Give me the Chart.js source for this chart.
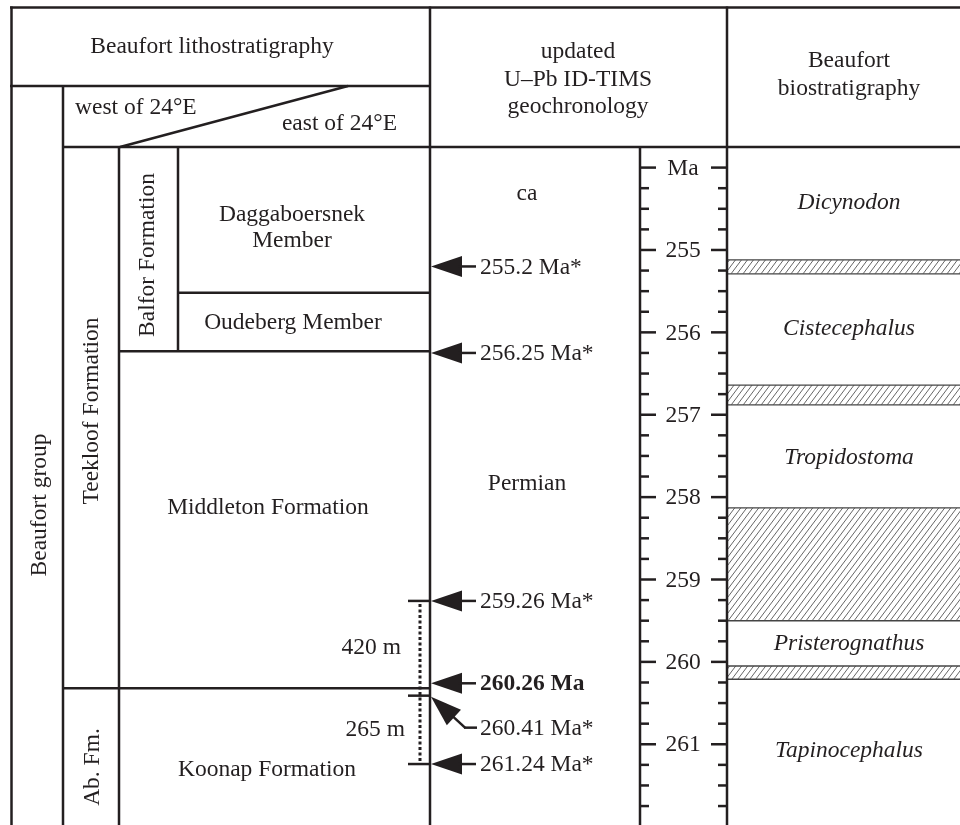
<!DOCTYPE html>
<html>
<head>
<meta charset="utf-8">
<script src="https://cdn.jsdelivr.net/npm/chart.js@4.4.1/dist/chart.umd.min.js"></script>
<style>
  html, body { margin: 0; padding: 0; background: #fff; }
  #wrap { width: 960px; height: 825px; position: relative; }
</style>
</head>
<body>
<div id="wrap"><canvas id="strat"></canvas></div>
<script>
// age column (Ma), youngest at the top
const ageTop = 253.75;
const ageBottom = 261.98;
const majorTicks = [254, 255, 256, 257, 258, 259, 260, 261];
const majorLabels = ['Ma', '255', '256', '257', '258', '259', '260', '261'];

// dated ash beds
const dateAges = [255.2, 256.25, 259.26, 260.26, 260.41, 261.24];
const dateLabels = ['255.2 Ma*', '256.25 Ma*', '259.26 Ma*', '260.26 Ma', '260.41 Ma*', '261.24 Ma*'];
const dateBold = [false, false, false, true, false, false];

// lithostratigraphic boundaries: Daggaboersnek/Oudeberg, Oudeberg/Middleton, Middleton/Koonap
const boundaryAges = [255.52, 256.23, 260.32];

// section thickness between dated levels
const thickAges = [259.26, 260.41, 261.24];
const thickLabels = ['420 m', '265 m'];

// biozones and the uncertain (hatched) intervals between them
const zoneNames = ['Dicynodon', 'Cistecephalus', 'Tropidostoma', 'Pristerognathus', 'Tapinocephalus'];
const zoneMid = [254.42, 255.95, 257.51, 259.77, 261.07];
const bandTops = [255.12, 256.64, 258.13, 260.05];
const bandBases = [255.29, 256.88, 259.50, 260.21];

const ink = '#231f20';
const serif = '"Liberation Serif", "Times New Roman", serif';
const fs = 23.5;

function line(c, x1, y1, x2, y2, w) {
    c.lineWidth = w || 2.5;
    c.beginPath();
    c.moveTo(x1, y1);
    c.lineTo(x2, y2);
    c.stroke();
}

function text(c, s, x, y, align, font) {
    c.font = font || (fs + 'px ' + serif);
    c.textAlign = align || 'center';
    c.textBaseline = 'middle';
    c.fillText(s, x, y);
}

function vtext(c, s, x, y) {
    c.save();
    c.translate(x, y);
    c.rotate(-Math.PI / 2);
    text(c, s, 0, 0);
    c.restore();
}

// arrow head pointing at (tx, ty), coming from direction (dx, dy)
function head(c, tx, ty, dx, dy) {
    const len = 31, half = 10.5;
    const bx = tx + dx * len, by = ty + dy * len;
    c.beginPath();
    c.moveTo(tx, ty);
    c.lineTo(bx - dy * half, by + dx * half);
    c.lineTo(bx + dy * half, by - dx * half);
    c.closePath();
    c.fill();
    return [bx, by];
}

const stratPlugin = {
    id: 'strat',
    afterDraw(chart) {
        const c = chart.ctx;
        const ys = chart.scales.y;
        const Y = v => ys.getPixelForValue(v);
        c.save();
        c.strokeStyle = ink;
        c.fillStyle = ink;
        c.lineCap = 'butt';

        // hatched intervals in the biozone column
        for (let i = 0; i < bandTops.length; i++) {
            const y1 = Y(bandTops[i]), y2 = Y(bandBases[i]);
            c.save();
            c.beginPath();
            c.rect(727, y1, 240, y2 - y1);
            c.clip();
            c.strokeStyle = '#555';
            const h = y2 - y1;
            for (let x = 727 - h; x < 970; x += 6) line(c, x, y2, x + h * 0.75, y1, 0.9);
            c.restore();
            c.strokeStyle = '#444';
            line(c, 727, y1, 960, y1, 1.4);
            line(c, 727, y2, 960, y2, 1.4);
            c.strokeStyle = ink;
        }

        // frame
        const yb = boundaryAges.map(Y);
        line(c, 10, 7.5, 960, 7.5);
        line(c, 10, 86, 430, 86);
        line(c, 62, 147, 960, 147);
        line(c, 178, yb[0], 430, yb[0]);
        line(c, 119, yb[1], 430, yb[1]);
        line(c, 62, yb[2], 430, yb[2]);
        line(c, 11.5, 6.5, 11.5, 825);
        line(c, 63, 85, 63, 825);
        line(c, 119, 146, 119, 825);
        line(c, 178, 146, 178, yb[1]);
        line(c, 430, 6.5, 430, 825);
        line(c, 640, 146, 640, 825);
        line(c, 727, 6.5, 727, 825);
        line(c, 120, 147, 348, 86);

        // age scale ticks, both sides
        ys.ticks.forEach(t => {
            const v = t.value;
            if (Math.abs(v * 4 - Math.round(v * 4)) > 1e-6 || v <= ageTop + 0.01) return;
            const y = Y(v);
            const major = Math.abs(v - Math.round(v)) < 1e-6;
            line(c, 640, y, 640 + (major ? 16 : 9), y, 2.5);
            line(c, 727 - (major ? 16 : 9), y, 727, y, 2.5);
        });
        majorTicks.forEach((v, i) => text(c, majorLabels[i], 683, Y(v) + 1));

        // headers
        text(c, 'Beaufort lithostratigraphy', 212, 47);
        text(c, 'west of 24°E', 75, 108, 'left');
        text(c, 'east of 24°E', 397, 124, 'right');
        text(c, 'updated', 578, 52);
        text(c, 'U–Pb ID-TIMS', 578, 80);
        text(c, 'geochronology', 578, 107);
        text(c, 'Beaufort', 849, 61);
        text(c, 'biostratigraphy', 849, 89);

        // lithostratigraphy
        vtext(c, 'Beaufort group', 40, 505);
        vtext(c, 'Teekloof Formation', 92, 411);
        vtext(c, 'Balfor Formation', 148, 255);
        vtext(c, 'Ab. Fm.', 93, 767);
        text(c, 'Daggaboersnek', 292, 215);
        text(c, 'Member', 292, 241);
        text(c, 'Oudeberg Member', 293, 323);
        text(c, 'Middleton Formation', 268, 508);
        text(c, 'Koonap Formation', 267, 770);

        // geochronology column
        text(c, 'ca', 527, 194);
        text(c, 'Permian', 527, 484);
        dateAges.forEach((a, i) => {
            const y = Y(a);
            const font = (dateBold[i] ? 'bold ' : '') + fs + 'px ' + serif;
            if (dateLabels[i] === '260.41 Ma*') {
                const ly = y + 32;
                const d = Math.hypot(34, 31);
                const b = head(c, 431, y + 1, 34 / d, 31 / d);
                line(c, b[0] - 3, b[1] - 3, 465, ly, 2.5);
                line(c, 464, ly, 477, ly, 2.5);
                text(c, dateLabels[i], 480, ly + 1, 'left', font);
            } else {
                head(c, 431, y, 1, 0);
                line(c, 458, y, 476, y, 2.5);
                text(c, dateLabels[i], 480, y + 1, 'left', font);
            }
        });

        // thickness bar
        const ty = thickAges.map(Y);
        ty.forEach(y => line(c, 408, y, 430, y, 2.5));
        c.setLineDash([3, 2.5]);
        line(c, 420, ty[0] + 3, 420, ty[ty.length - 1], 3);
        c.setLineDash([]);
        for (let i = 0; i < thickLabels.length; i++) {
            text(c, thickLabels[i], 401 + i * 4, (ty[i] + ty[i + 1]) / 2, 'right');
        }

        // biozones
        zoneNames.forEach((n, i) => text(c, n, 849, Y(zoneMid[i]) + 1, 'center', 'italic ' + fs + 'px ' + serif));

        c.restore();
    }
};

new Chart(document.getElementById('strat').getContext('2d'), {
    type: 'scatter',
    data: {
        datasets: [{
            label: 'dated horizons',
            data: dateAges.map(a => ({ x: 0.5, y: a })),
            pointRadius: 0
        }]
    },
    options: {
        responsive: true,
        maintainAspectRatio: false,
        animation: false,
        events: [],
        layout: { padding: { top: 147, bottom: 0, left: 0, right: 0 } },
        plugins: { legend: { display: false }, tooltip: { enabled: false } },
        scales: {
            x: { display: false, min: 0, max: 1 },
            y: {
                display: false,
                reverse: true,
                min: ageTop,
                max: ageBottom,
                ticks: { stepSize: 0.25, maxTicksLimit: 100 }
            }
        }
    },
    plugins: [stratPlugin]
});
</script>
</body>
</html>
